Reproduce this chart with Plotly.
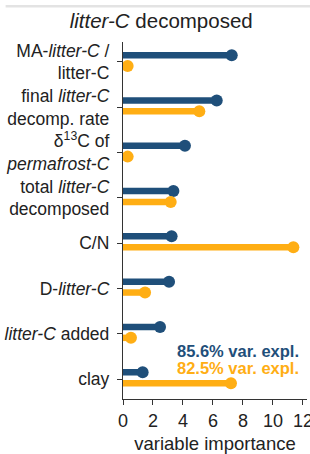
import plotly.graph_objects as go

categories = [
    "MA-<i>litter-C</i> /<br>litter-C",
    "final <i>litter-C</i><br>decomp. rate",
    "δ<sup>13</sup>C of<br><i>permafrost-C</i>",
    "total <i>litter-C</i><br>decomposed",
    "C/N",
    "D-<i>litter-C</i>",
    "<i>litter-C</i> added",
    "clay",
]
blue_vals = [7.25, 6.25, 4.13, 3.36, 3.24, 3.07, 2.47, 1.31]
orange_vals = [0.31, 5.09, 0.31, 3.18, 11.36, 1.47, 0.53, 7.2]
blue_label = "85.6% var. expl."
orange_label = "82.5% var. expl."

BLUE = "#1f4f7a"
ORANGE = "#ffae14"
FONT = "Liberation Sans, Arial"
idx = list(range(len(categories)))
off_b, off_o = -0.15, 0.09

fig = go.Figure()
for vals, off, col in [(blue_vals, off_b, BLUE), (orange_vals, off_o, ORANGE)]:
    xs, ys = [], []
    for i, v in zip(idx, vals):
        xs += [0, v, None]
        ys += [i + off, i + off, None]
    fig.add_trace(go.Scatter(x=xs, y=ys, mode="lines",
                             line=dict(color=col, width=6.5), hoverinfo="skip"))
    fig.add_trace(go.Scatter(x=vals, y=[i + off for i in idx], mode="markers",
                             marker=dict(color=col, size=12, line=dict(width=0))))

fig.add_annotation(x=0.97, y=0.135, xref="paper", yref="paper", xanchor="right", yanchor="middle",
                   text=f"<b>{blue_label}</b>", showarrow=False,
                   font=dict(color=BLUE, size=16.5, family=FONT))
fig.add_annotation(x=0.97, y=0.088, xref="paper", yref="paper", xanchor="right", yanchor="middle",
                   text=f"<b>{orange_label}</b>", showarrow=False,
                   font=dict(color=ORANGE, size=16.5, family=FONT))

fig.add_shape(type="line", xref="paper", yref="paper", x0=-0.638, x1=1.05, y0=1.1, y1=1.1,
              line=dict(color="#e3e3e3", width=2.5))

fig.update_layout(
    width=310, height=454,
    margin=dict(l=123, r=3, t=42, b=55),
    paper_bgcolor="white", plot_bgcolor="white",
    showlegend=False,
    font=dict(family=FONT, size=17.5, color="#222"),
    title=dict(text="<i>litter-C</i> decomposed", x=0.52, xanchor="center", y=0.955, yanchor="middle",
               font=dict(size=20.5, color="#222")),
)
fig.update_xaxes(range=[0, 12.27], tickvals=[0, 2, 4, 6, 8, 10, 12], showline=True, linecolor="#333",
                 linewidth=1.3, ticks="outside", ticklen=5, tickcolor="#333", showgrid=False, zeroline=False,
                 title=dict(text="variable importance", standoff=10, font=dict(size=18.5)),
                 tickfont=dict(size=18), ticklabeloverflow="allow", automargin=False)
fig.update_yaxes(range=[7.44, -0.44], tickvals=idx, ticktext=categories, showline=True, linecolor="#333",
                 linewidth=1.3, ticks="outside", ticklen=5, tickcolor="#333", showgrid=False, zeroline=False,
                 ticklabelstandoff=4, automargin=False)
fig.write_html("out.html", config={"displayModeBar": False},
               post_script="document.body.style.margin='0';document.body.style.overflow='hidden';")
